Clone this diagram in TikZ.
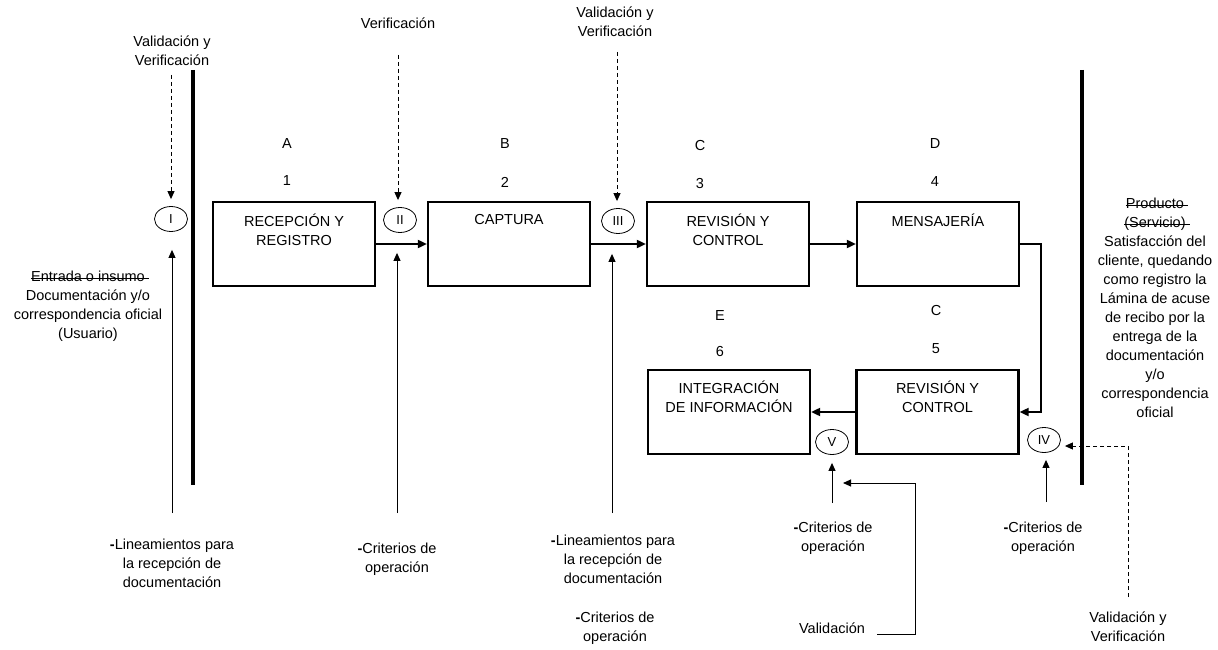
\documentclass[tikz,border=0pt]{standalone}
\usepackage{fontspec}
\setmainfont{Liberation Sans}
\usetikzlibrary{shapes.geometric,arrows.meta}
% struck-through text, the rule running a space past the word
\newcommand\strk[1]{\setbox0\hbox{#1\ }\rlap{\rule[0.14em]{\wd0}{0.07em}}#1}
\begin{document}
\begin{tikzpicture}[x=1pt,y=-1pt,
  every node/.style={font=\fontsize{14.5}{19}\selectfont},
  procbox/.style={draw, line width=2.2pt, minimum width=162pt, minimum height=84pt, inner sep=0pt},
  gate/.style={ellipse, draw, line width=0.8pt, minimum width=33pt, minimum height=25pt, inner sep=0pt,
               font=\fontsize{13}{15}\selectfont},
  lbl/.style={align=center, inner sep=0pt},
  flow/.style={line width=1.8pt, -{Triangle[length=9pt,width=8pt]}},
  feed/.style={line width=1pt, -{Triangle[length=8pt,width=7pt]}},
  check/.style={line width=1pt, dash pattern=on 4pt off 3pt, -{Triangle[length=8pt,width=7pt]}},
  wall/.style={line width=4pt}]
\useasboundingbox (0,0) rectangle (1218,650);

% boundary walls
\coordinate (wLt) at (193,70);  \coordinate (wLb) at (193,485);
\coordinate (wRt) at (1082,70); \coordinate (wRb) at (1082,485);
\draw[wall] (wLt) -- (wLb);
\draw[wall] (wRt) -- (wRb);

% process boxes
\node[procbox] (b1) at (294,244) {};
\node[procbox] (b2) at (509,244) {};
\node[procbox] (b3) at (728,244) {};
\node[procbox] (b4) at (938,244) {};
\node[procbox] (b5) at (937.5,412) {};
\node[procbox] (b6) at (729,412) {};

\node[lbl] (t1) at (294,230) {RECEPCIÓN Y\\REGISTRO};
\node[lbl] (t2) at (509,220) {CAPTURA};
\node[lbl] (t3) at (728,230) {REVISIÓN Y\\CONTROL};
\node[lbl] (t4) at (938,220) {MENSAJERÍA};
\node[lbl] (t5) at (937.5,397) {REVISIÓN Y\\CONTROL};
\node[lbl] (t6) at (729,397) {INTEGRACIÓN\\DE INFORMACIÓN};

% stage letters and numbers
\node[lbl] (lA) at (287,144) {A}; \node[lbl] (n1) at (287,181) {1};
\node[lbl] (lB) at (505,144) {B}; \node[lbl] (n2) at (505,182) {2};
\node[lbl] (lC) at (700,146) {C}; \node[lbl] (n3) at (700,184) {3};
\node[lbl] (lD) at (935,144) {D}; \node[lbl] (n4) at (935,182) {4};
\node[lbl] (lE) at (720,316) {E}; \node[lbl] (n6) at (720,352) {6};
\node[lbl] (lC2) at (936,311) {C}; \node[lbl] (n5) at (936,349) {5};

% control points
\node[gate] (cI)   at (171,219) {I};
\node[gate] (cII)  at (400,220) {II};
\node[gate] (cIII) at (618,221) {III};
\node[gate] (cIV)  at (1044,440) {IV};
\node[gate] (cV)   at (832,442) {V};

% main flow
\draw[flow] (b1) -- (b2);
\draw[flow] (b2) -- (b3);
\draw[flow] (b3) -- (b4);
\draw[flow] (b4.east) -| (1041,412) -- (b5.east);
\draw[flow] (b5) -- (b6);

% input and output texts
\node[lbl] (inp) at (88,306) {\strk{Entrada o insumo}\\Documentación y/o\\correspondencia oficial\\(Usuario)};
\node[lbl] (outp) at (1155,307.5) {\strk{Producto}\\\strk{(Servicio)}\\Satisfacción del\\cliente, quedando\\como registro la\\Lámina de acuse\\de recibo por la\\entrega de la\\documentación\\y/o\\correspondencia\\oficial};

% validation / verification checks
\node[lbl] (vvI)  at (172,51) {Validación y\\Verificación};
\node[lbl] (ver2) at (398,23) {Verificación};
\node[lbl] (vv3)  at (615,22) {Validación y\\Verificación};
\node[lbl] (vvIV) at (1128,627) {Validación y\\Verificación};
\node[lbl] (val)  at (832,628) {Validación};

\coordinate (dI)   at (171,75);
\coordinate (dII)  at (398,55);
\coordinate (dIII) at (617,52);
\draw[check, shorten >=7pt] (dI) -- (cI.north);
\draw[check, shorten >=7pt] (dII) -- (dII |- cII.north);
\draw[check, shorten >=7pt] (dIII) -- (dIII |- cIII.north);
\coordinate (dIV) at (1128,597);
\draw[check, shorten >=4pt] (dIV) -- (1128,446) -- (cIV.east |- 0,446);

\coordinate (vS) at (877,634);
\draw[feed] (vS) -- (915,634) -- (915,483) -- (843,483);

% operating criteria
\node[lbl] (lin1) at (172,563) {\textbf{-}Lineamientos para\\la recepción de\\documentación};
\node[lbl] (cri2) at (397,559) {\textbf{-}Criterios de\\operación};
\node[lbl] (lin3) at (613,559) {\textbf{-}Lineamientos para\\la recepción de\\documentación};
\node[lbl] (cri3) at (615,628) {\textbf{-}Criterios de\\operación};
\node[lbl] (criV) at (833,538) {\textbf{-}Criterios de\\operación};
\node[lbl] (criIV) at (1043,538) {\textbf{-}Criterios de\\operación};

\coordinate (fI)   at (172,513);
\coordinate (fII)  at (397,513);
\coordinate (fIII) at (612,513);
\coordinate (fV)   at (832,503);
\coordinate (fIV)  at (1046,502);
\draw[feed, shorten >=18pt] (fI) -- (fI |- cI.south);
\draw[feed, shorten >=20pt] (fII) -- (fII |- cII.south);
\draw[feed, shorten >=20pt] (fIII) -- (fIII |- cIII.south);
\draw[feed, shorten >=8pt] (fV) -- (cV.south);
\draw[feed, shorten >=7pt] (fIV) -- (fIV |- cIV.south);
\end{tikzpicture}
\end{document}
